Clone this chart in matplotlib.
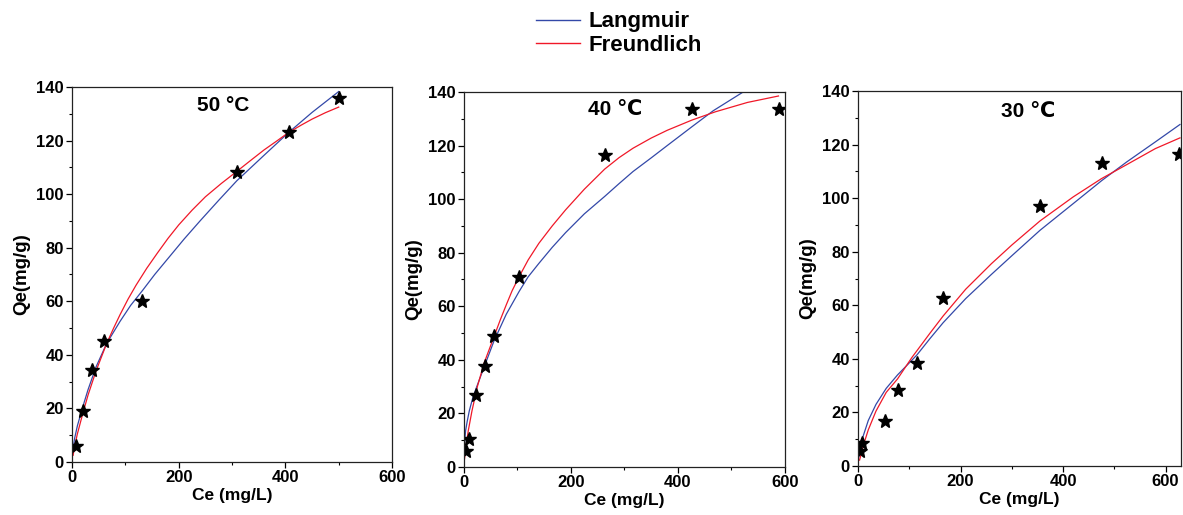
import matplotlib
matplotlib.use("Agg")
import matplotlib.pyplot as plt
from matplotlib.lines import Line2D
from matplotlib.ticker import MultipleLocator

plt.rcParams['font.family'] = ['Liberation Sans', 'DejaVu Sans']

# ---- 50 C ----
ce_50 = [7.5, 21, 38, 60, 132, 309, 406, 500]
qe_50 = [6.1, 18.9, 34.4, 45.2, 60.2, 108.3, 123.2, 136.0]
lang_c_50 = [1, 5, 10, 20, 30, 45, 65, 90, 110, 132, 155, 180, 210, 240, 275, 309, 360, 406, 450, 500]
lang_q_50 = [4, 9, 13.5, 20.5, 27, 35.5, 44.3, 52.5, 58.5, 64, 70, 76, 83.2, 90, 97.7, 105, 114.5, 123, 130.5, 138.3]
freu_c_50 = [2, 5, 10, 20, 30, 45, 65, 78, 90, 105, 120, 140, 160, 180, 200, 225, 250, 280, 309, 335, 360, 385, 406, 430, 450, 475, 500]
freu_q_50 = [2.5, 6, 10.5, 18, 25, 34, 44.3, 50, 55, 60.8, 66, 72.3, 78, 83.5, 88.5, 94, 99, 104, 108.5, 112.6, 116.5, 120, 123, 125.8, 128, 130.4, 132.5]

# ---- 40 C ----
ce_40 = [4.4, 8.7, 23, 38.7, 56, 103, 263, 426, 588]
qe_40 = [6.0, 10.6, 26.8, 37.7, 48.9, 70.8, 116.3, 133.8, 133.8]
lang_c_40 = [1, 3, 6, 10, 16, 23, 38, 56, 79, 103, 120, 140, 165, 190, 225, 263, 290, 316, 350, 380, 426, 466, 522]
lang_q_40 = [9, 13.5, 17, 21, 25.5, 29.5, 37.5, 47, 57, 65.5, 71, 76, 82, 87.5, 94.5, 101, 105.8, 110.3, 115.4, 120, 127, 133, 140]
freu_c_40 = [1, 4, 8, 15, 25, 38, 56, 68, 79, 90, 103, 120, 140, 165, 190, 225, 263, 290, 316, 350, 380, 426, 470, 530, 588]
freu_q_40 = [3, 8, 13.5, 21, 30, 39, 48.6, 55, 60.5, 65.8, 71, 77.3, 83.5, 90, 96, 103.7, 111.2, 115.5, 119, 122.8, 125.7, 129.5, 132.6, 136.1, 138.5]

# ---- 30 C ----
ce_30 = [4.5, 7.7, 53, 77.4, 115.5, 165.8, 354.8, 475.5, 625.8]
qe_30 = [5.7, 8.5, 16.8, 28.4, 38.6, 62.8, 97.1, 113.3, 116.3]
lang_c_30 = [2, 8, 20, 35, 55, 77, 100, 115, 140, 166, 210, 260, 300, 355, 420, 475, 524, 580, 628]
lang_q_30 = [3.5, 10, 17, 23, 29, 34, 38.5, 41.5, 47.5, 53.5, 62.5, 71.5, 78.5, 88, 98, 106.5, 113.5, 121, 127.5]
freu_c_30 = [3, 10, 20, 35, 55, 77, 105, 140, 166, 210, 260, 300, 355, 420, 475, 524, 580, 628]
freu_q_30 = [2.2, 7.5, 13.5, 20.5, 27.5, 32.5, 40.5, 49.5, 56, 66, 75.5, 82.5, 91.5, 100.5, 107.3, 112.5, 118.5, 122.5]

temps = ["50 \u00b0C", "40 \u2103", "30 \u2103"]
xmax = [600, 600, 630]
label_pos = [(283, 133), (282, 133.5), (331, 132.5)]

blue = '#3348a8'
red = '#f01828'

fig = plt.figure(figsize=(11.83, 5.15), dpi=100)
rects = [[0.0609, 0.1029, 0.2705, 0.7282],
         [0.3922, 0.0932, 0.2713, 0.7282],
         [0.7253, 0.0951, 0.2730, 0.7282]]

panels = [
    (ce_50, qe_50, lang_c_50, lang_q_50, freu_c_50, freu_q_50),
    (ce_40, qe_40, lang_c_40, lang_q_40, freu_c_40, freu_q_40),
    (ce_30, qe_30, lang_c_30, lang_q_30, freu_c_30, freu_q_30),
]

for i, (ce, qe, lc, lq, fc, fq) in enumerate(panels):
    ax = fig.add_axes(rects[i])
    ax.plot(lc, lq, color=blue, lw=0.9)
    ax.plot(fc, fq, color=red, lw=0.9)
    ax.plot(ce, qe, linestyle='none', marker='*', color='black', markersize=10)
    ax.set_xlim(0, xmax[i])
    ax.set_ylim(0, 140)
    ax.xaxis.set_major_locator(MultipleLocator(200))
    ax.xaxis.set_minor_locator(MultipleLocator(100))
    ax.yaxis.set_major_locator(MultipleLocator(20))
    ax.yaxis.set_minor_locator(MultipleLocator(10))
    ax.tick_params(which='major', length=4, width=0.9, direction='out', pad=2)
    ax.tick_params(which='minor', length=2.5, width=0.8, direction='out')
    for lbl in ax.get_xticklabels() + ax.get_yticklabels():
        lbl.set_fontweight('bold')
        lbl.set_fontsize(12)
    for sp in ax.spines.values():
        sp.set_linewidth(0.9)
        sp.set_color('#222222')
    ax.set_xlabel("Ce (mg/L)", fontsize=12.5, fontweight='bold', labelpad=2)
    ax.set_ylabel("Qe(mg/g)", fontsize=13.5, fontweight='bold', labelpad=4)
    ax.text(label_pos[i][0], label_pos[i][1], temps[i], ha='center', va='center',
            fontsize=15, fontweight='bold')

handles = [Line2D([], [], color=blue, lw=1.0), Line2D([], [], color=red, lw=1.0)]
fig.legend(handles, ["Langmuir", "Freundlich"], loc='center',
           bbox_to_anchor=(0.523, 0.935), frameon=False, handlelength=2.0,
           handletextpad=0.35, labelspacing=0.1,
           prop={'weight': 'bold', 'size': 16})

fig.savefig("out.png", dpi=100)
